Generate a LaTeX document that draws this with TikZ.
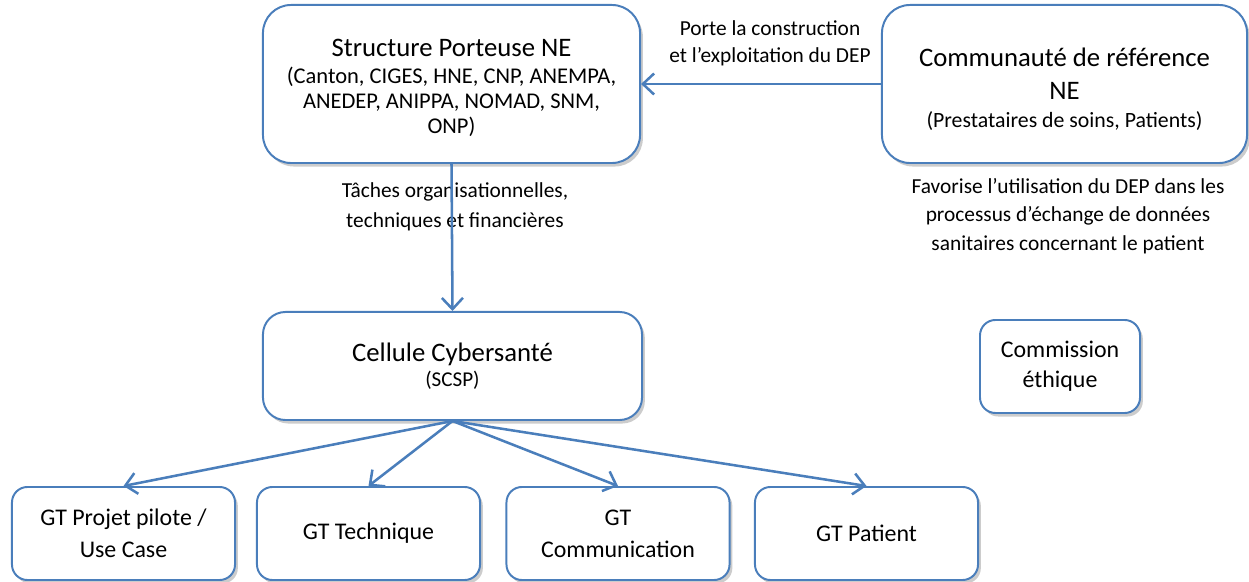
\documentclass[tikz,border=0pt]{standalone}
\usepackage{fontspec}
\setmainfont{Carlito}
\usetikzlibrary{arrows.meta,shadows}

\definecolor{boxblue}{HTML}{4A7EBB}

\tikzset{
  unitbox/.style={draw=boxblue, line width=1.4pt, fill=white, align=center,
    inner sep=0pt, drop shadow={shadow xshift=2pt, shadow yshift=-2.5pt, fill=black!40}},
  bigbox/.style={unitbox, rounded corners=20pt},
  gtbox/.style={unitbox, rounded corners=11pt, minimum width=5.575cm, minimum height=2.325cm,
    font=\fontsize{17}{22.8}\selectfont},
  link/.style={draw=boxblue, line width=1.8pt, -{Straight Barb[length=8pt,width=15pt]}},
  lbl/.style={align=center},
}
\newcommand{\titlesize}{\fontsize{19}{17.8}\selectfont}
\newcommand{\subsize}{\fontsize{16}{17.8}\selectfont}

\begin{document}
\begin{tikzpicture}[x=0.025cm, y=-0.025cm]
\useasboundingbox (0, 0) rectangle (1249, 582);
% top row
\node (porteuse) [bigbox, minimum width=9.425cm, minimum height=3.95cm, font=\subsize] at (451.5, 84)
  {\titlesize\rule{0pt}{18pt}Structure Porteuse NE\\[1.4pt] \subsize (Canton, CIGES, HNE, CNP, ANEMPA,\\
   ANEDEP, ANIPPA, NOMAD, SNM,\\ ONP)};
\node (communaute) [bigbox, minimum width=9.125cm, minimum height=3.95cm, font=\subsize] at (1064.5, 84)
  {\titlesize\rule{0pt}{21pt}Communauté de référence\\[5.7pt] \titlesize NE\\[2pt]
   \fontsize{15.5}{17.8}\selectfont (Prestataires de soins, Patients)};
% middle row
\node (cellule) [unitbox, rounded corners=16pt, minimum width=9.475cm, minimum height=2.7cm,
  font=\subsize] at (452.5, 366)
  {\titlesize Cellule Cybersanté\\ \fontsize{15}{20.6}\selectfont (SCSP)};
\node (commission) [unitbox, rounded corners=11pt, minimum width=4cm, minimum height=2.325cm,
  font=\fontsize{17}{21.3}\selectfont] at (1060, 366.5) {Commission\\ éthique};
% groupes de travail
\node (gtpilote) [gtbox] at (123.5, 533.5) {GT Projet pilote /\\ Use Case};
\node (gttech) [gtbox] at (368.5, 533.5) {GT Technique};
\node (gtcomm) [gtbox] at (618, 533.5) {GT\\ Communication};
\node (gtpatient) [gtbox] at (866.5, 533.5) {GT Patient};
% labels
\node (lblporte) [lbl, font=\fontsize{15.2}{19.2}\selectfont] at (770, 43)
  {Porte la construction\\ et l'exploitation du DEP};
\node (lbltaches) [lbl, font=\fontsize{15.2}{21.3}\selectfont] at (455, 207)
  {Tâches organisationnelles,\\ techniques et financières};
\node (lblfavorise) [lbl, font=\fontsize{15.2}{20.3}\selectfont] at (1068, 216)
  {Favorise l’utilisation du DEP dans les\\ processus d’échange de données\\
   sanitaires concernant le patient};
% connectors
\draw [link] (communaute.west) -- (porteuse.east);
\draw [link] (porteuse.south) -- (cellule.north);
\draw [link] (cellule.south) -- (gtpilote.north);
\draw [link] (cellule.south) -- (gttech.north);
\draw [link] (cellule.south) -- (gtcomm.north);
\draw [link] (cellule.south) -- (gtpatient.north);
\end{tikzpicture}
\end{document}
